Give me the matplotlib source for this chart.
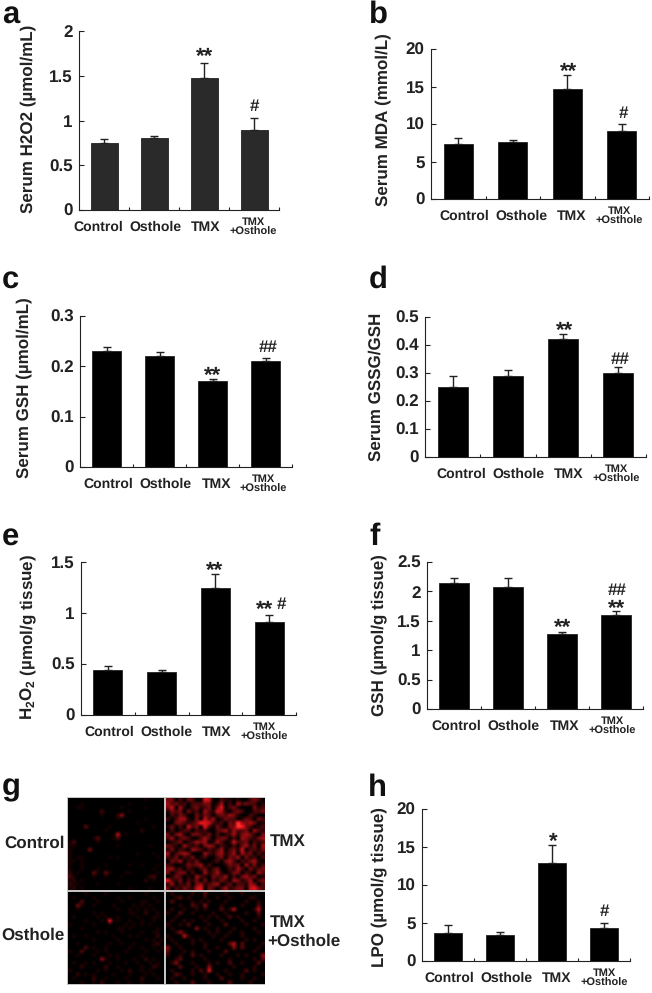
import matplotlib
matplotlib.use('Agg')
import matplotlib.pyplot as plt
import numpy as np
from matplotlib.colors import LinearSegmentedColormap
from matplotlib.patches import Rectangle

plt.rcParams['font.family'] = ['Liberation Sans', 'DejaVu Sans']
plt.rcParams['font.weight'] = 'bold'
plt.rcParams['text.hinting'] = 'no_hinting'
plt.rcParams['text.hinting_factor'] = 1
plt.rcParams['mathtext.fontset'] = 'custom'
plt.rcParams['mathtext.bf'] = 'Liberation Sans:bold'
plt.rcParams['mathtext.rm'] = 'Liberation Sans:bold'

W, H = 652, 993
INK = '#222222'

groups = ['Control', 'Osthole', 'TMX', 'TMX\n+Osthole']

serum_h2o2 = [0.75, 0.81, 1.48, 0.89]
serum_h2o2_err = [0.04, 0.02, 0.16, 0.14]
serum_mda = [7.4, 7.65, 14.7, 9.1]
serum_mda_err = [0.8, 0.2, 1.8, 0.9]
serum_gsh = [0.23, 0.22, 0.17, 0.21]
serum_gsh_err = [0.009, 0.009, 0.005, 0.006]
serum_gssg = [0.25, 0.29, 0.42, 0.30]
serum_gssg_err = [0.04, 0.02, 0.02, 0.02]
tissue_h2o2 = [0.44, 0.42, 1.25, 0.91]
tissue_h2o2_err = [0.04, 0.02, 0.13, 0.07]
tissue_gsh = [2.15, 2.08, 1.28, 1.60]
tissue_gsh_err = [0.08, 0.15, 0.03, 0.07]
tissue_lpo = [3.7, 3.4, 12.9, 4.4]
tissue_lpo_err = [1.0, 0.4, 2.3, 0.6]

ticks_a = ['0', '0.5', '1', '1.5', '2']
ticks_b = ['0', '5', '10', '15', '20']
ticks_c = ['0', '0.1', '0.2', '0.3']
ticks_d = ['0', '0.1', '0.2', '0.3', '0.4', '0.5']
ticks_e = ['0', '0.5', '1', '1.5']
ticks_f = ['0', '0.5', '1', '1.5', '2', '2.5']
ticks_h = ['0', '5', '10', '15', '20']

# fluorescence brightness by eye, 0-9 per cell
control_cells = [
    '000000000000000000010000', '000100000000000100000000',
    '001100000000010000010000', '000000003000000100000000',
    '000000001000260000000000', '000000000000100000010000',
    '000000000000000001000000', '000040000010000000000100',
    '000000000100000000200000', '000000000000801000000000',
    '000000140001300000000000', '130000010000000000000000',
    '110000000000100000001000', '100005000000000000000000',
    '100000000000000001000100', '101100000010100000000010',
    '110100000000000000000000', '100100000100000100100010',
    '100100010000000000000100', '201000410410001100000010',
    '310000100100010000002300', '120100000000000000020100',
    '211000010000100000000000', '120100000000000100001000']
tmx_cells = [
    '330203200650021101002320', '423120222330140204232201',
    '350410231230360231000312', '132303120421541023200223',
    '021320031320232431002100', '202441030524013220132032',
    '003321237652120328434301', '130205230620310338732012',
    '020122021200234142230421', '303410332130201241343103',
    '240232002420233020432134', '012301243401420152230212',
    '321042120343021020341304', '130210432021240231502213',
    '402343000421341240423021', '213021301200230324031202',
    '032402130001203420213410', '210013234020001323041302',
    '341202102302300214203123', '302330200412410133021042',
    '013201042103224020342301', '621302130302132043124023',
    '140213034123401302214302', '302132156032024123305632']
osthole_cells = [
    '000010000100000000010000', '010000100000100100000100',
    '000300010000010000110010', '004100100001000010101000',
    '001000000000100101010100', '000000101000000110020010',
    '010000010100100001000110', '000010001080100100100100',
    '100000100010001010101000', '000100000000110100000010',
    '000000010100010000100110', '010010000001000101000020',
    '000000100000100000010101', '001000000010010010000120',
    '000030100100000100100101', '100300010100001000010010',
    '001000100010100000100000', '000000005100100010020100',
    '010010100010001001001010', '000200000200100000100210',
    '100000010100010200101000', '002010100001000100010100',
    '010000200100001000200010', '000100102000100100100000']
combo_cells = [
    '010000100200001000100000', '001201000100100100001100',
    '020000101010001000010010', '000100210300010000100020',
    '010010010100020140000140', '100200100001001000010020',
    '001000001010100201000010', '010010100100010000100100',
    '100102000010002000010001', '010000030100100010000100',
    '001310000010100100100010', '100041000001001000100000',
    '010000101000010000010100', '001000100100000240200001',
    '300100000100100030200010', '200010100010002000000100',
    '100100201000010001010003', '001200000100000100000102',
    '013000100010100200100020', '000200010030000010000100',
    '010000102050001000020100', '002100100100100100100001',
    '010010000100020000100100', '001000200010000200001000']

fig = plt.figure(figsize=(W / 100, H / 100), dpi=100, facecolor='white')


def put(px, py, text, **kw):
    return fig.text(px / W, 1 - py / H, text, **kw)


def bar_panel(box, values, errs, ymax, ticks, ylabel, ylabel_at, label_px,
              color='black'):
    left, right, top, bottom = box
    ax = fig.add_axes([left / W, 1 - bottom / H, (right - left) / W,
                       (bottom - top) / H])
    x = np.arange(4) + 0.5
    ax.bar(x, values, width=0.54, color=color, edgecolor='#222222', linewidth=0.6)
    ax.errorbar(x, values, yerr=[np.zeros(4), errs], fmt='none', ecolor=INK,
                elinewidth=1.0, capsize=2.6, capthick=1.0)
    ax.set_xlim(0, 4)
    ax.set_ylim(0, ymax)
    ax.set_xticks(np.arange(1, 5))
    ax.set_xticklabels([])
    ax.set_yticks([float(t) for t in ticks])
    ax.set_yticklabels(ticks, fontsize=12.5, fontweight='bold')
    ax.tick_params(axis='y', direction='in', length=3.5, width=0.8, pad=4.5,
                   color=INK, labelcolor=INK)
    ax.tick_params(axis='x', direction='in', length=2.2, width=0.8, color=INK)
    for side in ['top', 'right']:
        ax.spines[side].set_visible(False)
    for side in ['left', 'bottom']:
        ax.spines[side].set_color(INK)
        ax.spines[side].set_linewidth(0.8)
    ax.patch.set_alpha(0)
    put(ylabel_at[0], ylabel_at[1], ylabel, rotation=90, ha='center',
        va='center', fontsize=12, fontweight='bold', color=INK)
    for name, px in zip(groups, label_px):
        small = '\n' in name
        put(px, bottom + 17, name, ha='center', va='center',
            fontsize=8 if small else 9.8, linespacing=0.95, color=INK,
            fontweight='bold')
    return ax


def mark(px, py, text):
    if set(text) == {'#'}:
        put(px, py, text, ha='center', va='center', fontsize=12, color=INK)
    elif text.endswith('#'):
        put(px - 5, py + 5, '**', ha='center', va='center', fontsize=15.5, color=INK)
        put(px + 11, py, '#', ha='center', va='center', fontsize=12, color=INK)
    else:
        put(px, py + 5, text, ha='center', va='center', fontsize=15.5, color=INK)


bar_panel((79, 279, 31, 210), serum_h2o2, serum_h2o2_err, 2, ticks_a,
          'Serum H2O2 (µmol/mL)', (28, 119), (98, 155, 206, 253), color='#2a2a2a')
bar_panel((431, 649, 49, 199), serum_mda, serum_mda_err, 20, ticks_b,
          'Serum MDA (mmol/L)', (383, 120), (464, 521, 572, 619))
bar_panel((80, 292, 316, 467), serum_gsh, serum_gsh_err, 0.3, ticks_c,
          'Serum GSH (µmol/mL)', (24, 388), (108, 165, 217, 263))
bar_panel((425, 646, 317, 457), serum_gssg, serum_gssg_err, 0.5, ticks_d,
          'Serum GSSG/GSH', (376, 387), (461, 518, 569, 616))
bar_panel((81, 296, 562, 715), tissue_h2o2, tissue_h2o2_err, 1.5, ticks_e,
          r'H$\mathbf{_2}$O$\mathbf{_2}$ (µmol/g tissue)', (28, 637),
          (109, 166, 217, 264))
bar_panel((427, 643, 562, 709), tissue_gsh, tissue_gsh_err, 2.5, ticks_f,
          'GSH (µmol/g tissue)', (379, 635), (456, 513, 565, 612))
bar_panel((422, 630, 809, 961), tissue_lpo, tissue_lpo_err, 20, ticks_h,
          'LPO (µmol/g tissue)', (379, 887), (449, 506, 557, 604))

mark(205, 52, '**')
mark(254, 107, '#')
mark(569, 67, '**')
mark(623, 114, '#')
mark(213, 371, '**')
mark(268, 348, '##')
mark(565, 326, '**')
mark(620, 360, '##')
mark(214, 566, '**')
mark(270, 605, '**#')
mark(563, 623, '**')
mark(617, 591, '##')
mark(617, 604, '**')
mark(553, 837, '*')
mark(604, 912, '#')

# micrographs
fig.add_artist(Rectangle((67 / W, 1 - 985 / H), 198 / W, 188 / H,
                         transform=fig.transFigure, facecolor='#c4c4c4',
                         edgecolor='none', zorder=-1))
reds = LinearSegmentedColormap.from_list(
    'reds', ['#000000', '#4a0608', '#a00c12', '#e01418', '#ff3a3a'])
for cells, top_value, (l, r, t, b) in [(control_cells, 13, (68, 164, 798, 890)),
                                       (tmx_cells, 8, (166, 264, 798, 890)),
                                       (osthole_cells, 11, (68, 164, 892, 984)),
                                       (combo_cells, 7, (166, 264, 892, 984))]:
    ax = fig.add_axes([l / W, 1 - b / H, (r - l) / W, (b - t) / H])
    grid = np.array([[int(c) for c in row] for row in cells], dtype=float)
    ax.imshow(grid, cmap=reds, vmin=0, vmax=top_value, interpolation='bilinear',
              aspect='auto')
    ax.axis('off')

put(4, 843, 'Control', ha='left', va='center', fontsize=12, color=INK)
put(1, 935, 'Osthole', ha='left', va='center', fontsize=12, color=INK)
put(270, 842, 'TMX', ha='left', va='center', fontsize=12, color=INK)
put(270, 923, 'TMX', ha='left', va='center', fontsize=12, color=INK)
put(267, 941, '+Osthole', ha='left', va='center', fontsize=12, color=INK)

# panel letters
for px, py, letter in [(2, 23, 'a'), (369, 23, 'b'), (2, 288, 'c'),
                       (369, 288, 'd'), (2, 545, 'e'), (369, 545, 'f'),
                       (2, 795, 'g'), (368, 796, 'h')]:
    put(px, py, letter, ha='left', va='baseline', fontsize=22, color='#111111')

fig.savefig('out.png', dpi=100)
